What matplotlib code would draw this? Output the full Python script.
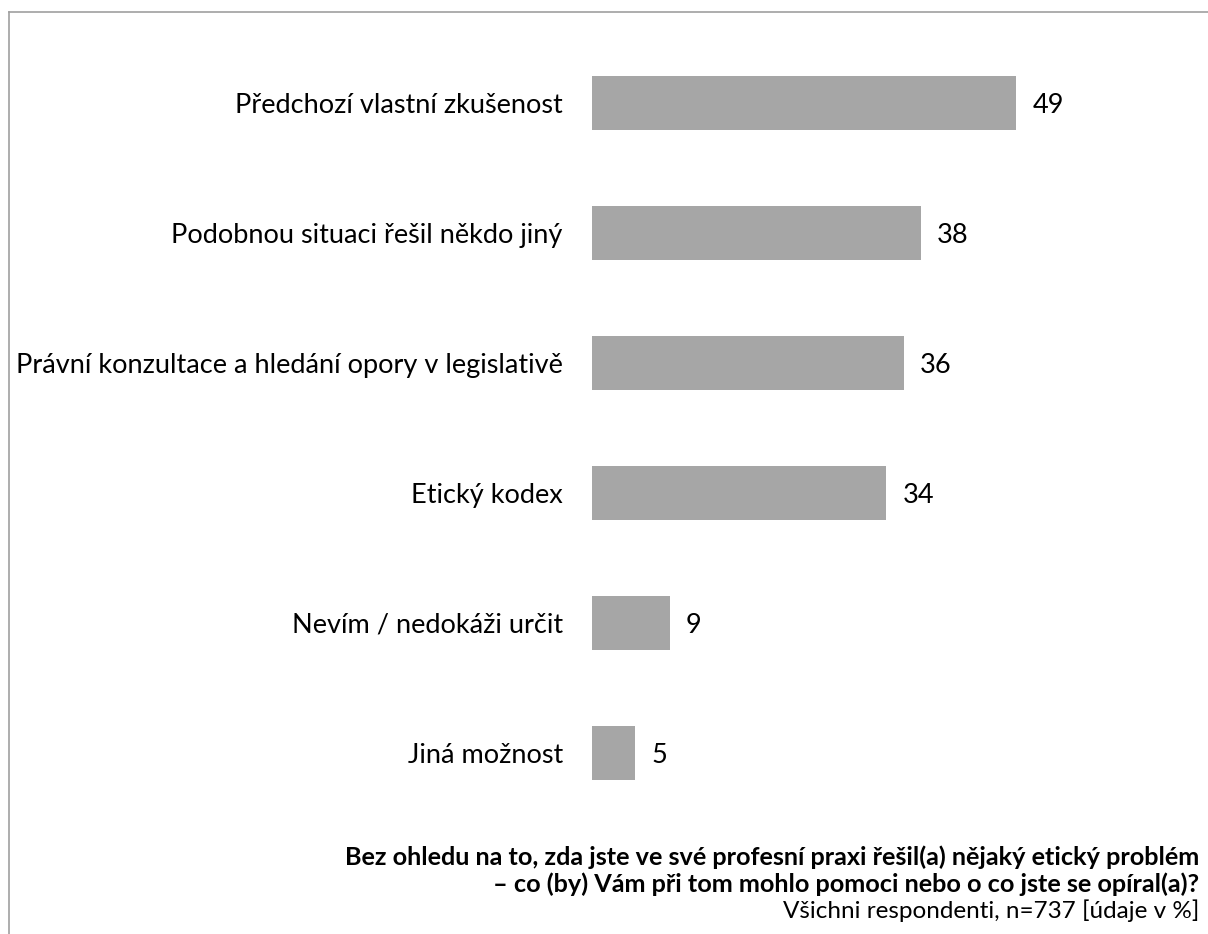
import matplotlib
matplotlib.use('Agg')
import matplotlib.pyplot as plt
from matplotlib.lines import Line2D

plt.rcParams['font.family'] = ['Lato', 'DejaVu Sans']

# data
categories = ['Předchozí vlastní zkušenost',
              'Podobnou situaci řešil někdo jiný',
              'Právní konzultace a hledání opory v legislativě',
              'Etický kodex',
              'Nevím / nedokáži určit',
              'Jiná možnost']
values = [49, 38, 36, 34, 9, 5]
title_lines = ['Bez ohledu na to, zda jste ve své profesní praxi řešil(a) nějaký etický problém',
               '– co (by) Vám při tom mohlo pomoci nebo o co jste se opíral(a)?']
note = 'Všichni respondenti, n=737 [údaje v %]'

W, H = 1208, 934
fig = plt.figure(figsize=(W / 100, H / 100), dpi=100)

# axes placed in pixel terms
left, right, top, bottom = 592, 1208, 38, 818
ax = fig.add_axes([left / W, 1 - bottom / H, (right - left) / W, (bottom - top) / H])

ypos = list(range(len(categories)))
ax.barh(ypos, values, height=0.41, color='#A6A6A6')
ax.set_xlim(0, (right - left) / 8.66)
ax.set_ylim(len(categories) - 0.5, -0.5)
ax.set_yticks(ypos)
ax.set_yticklabels(categories, fontsize=19.5)
ax.tick_params(axis='y', length=0, pad=21)
ax.set_xticks([])
for s in ax.spines.values():
    s.set_visible(False)

for y, v in zip(ypos, values):
    ax.annotate(str(v), xy=(v, y), xytext=(11.5, 0), textcoords='offset points',
                va='center_baseline', ha='left', fontsize=19.5)

# footer
fig.text(1199 / W, 1 - 857 / H, title_lines[0], ha='right', va='center',
         fontsize=18.2, fontweight='bold')
fig.text(1199 / W, 1 - 884 / H, title_lines[1], ha='right', va='center',
         fontsize=18.2, fontweight='bold')
fig.text(1199 / W, 1 - 911 / H, note, ha='right', va='center', fontsize=17.5)

# frame lines
fig.add_artist(Line2D([9 / W, 9 / W], [0, 1 - 12 / H], color='#A0A0A0', lw=1.2))
fig.add_artist(Line2D([9 / W, 1], [1 - 12 / H, 1 - 12 / H], color='#A0A0A0', lw=1.2))

fig.savefig('out.png', dpi=100)
